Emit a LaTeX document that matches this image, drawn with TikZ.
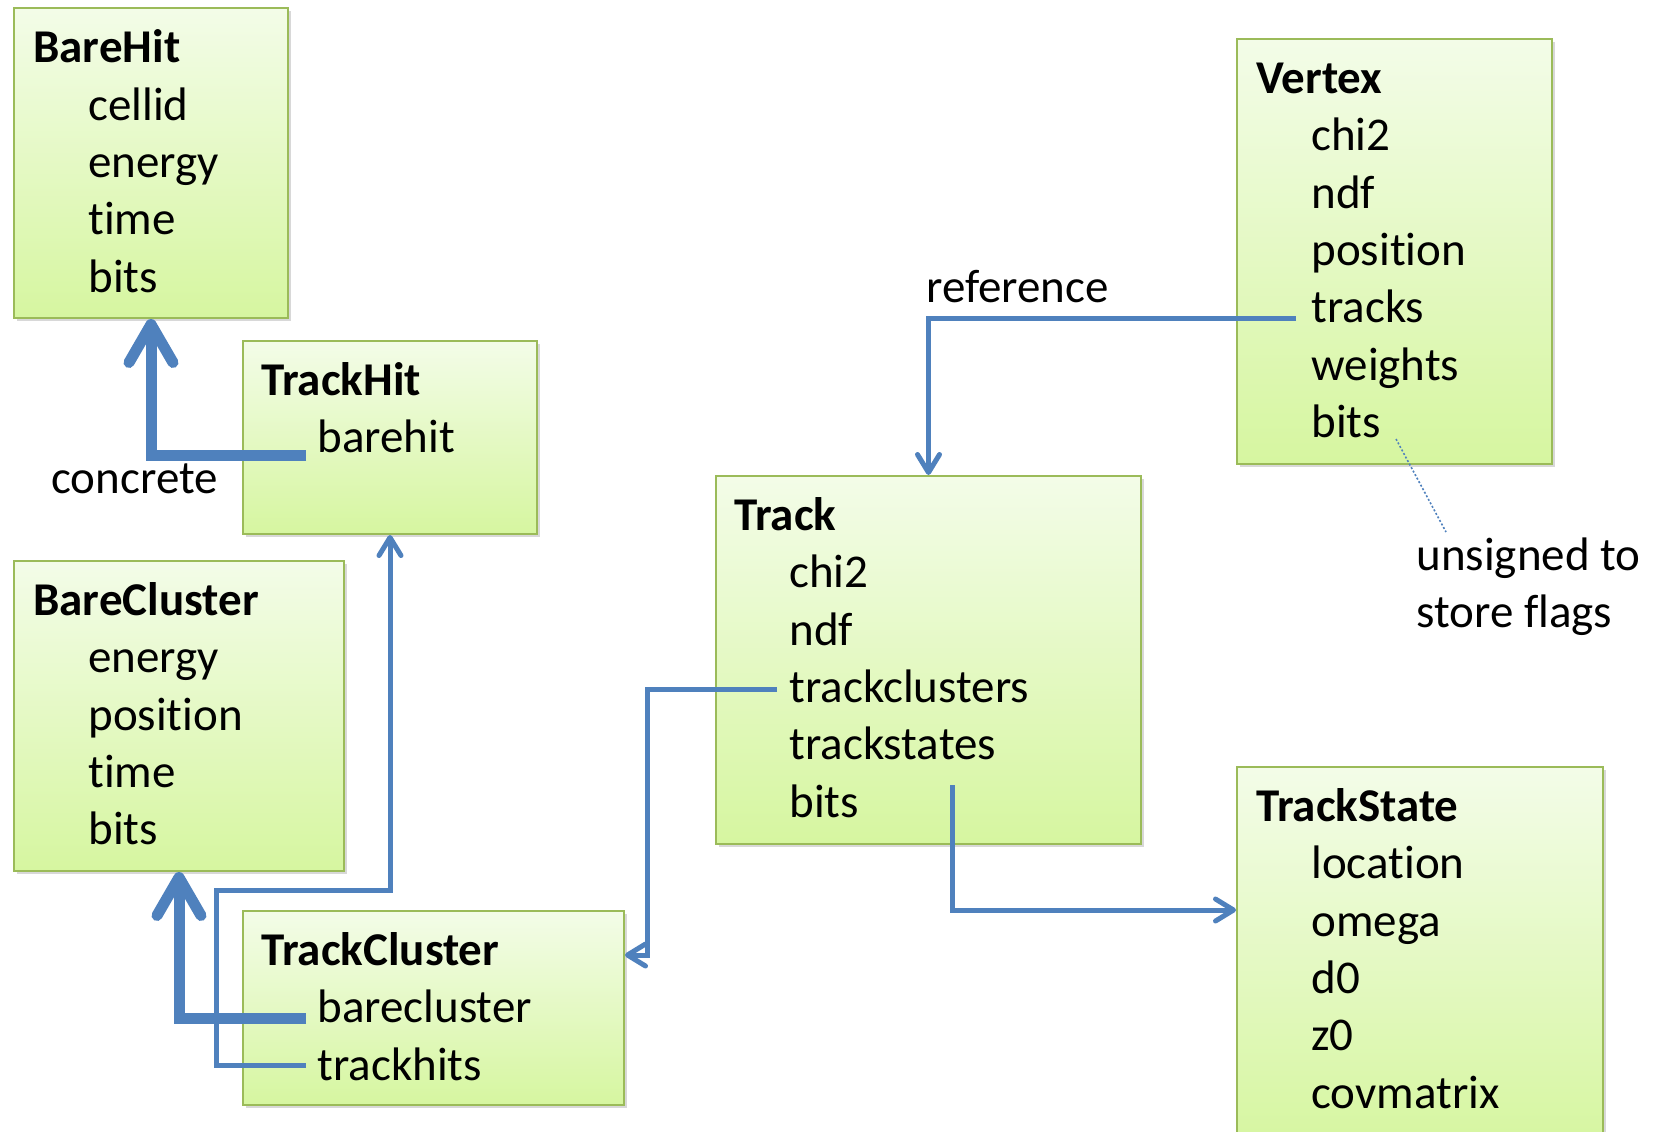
\documentclass[tikz,border=0pt]{standalone}
\usepackage{fontspec}
\setmainfont{Carlito}[Ligatures=NoCommon]
\usetikzlibrary{arrows.meta,shadows,calc}
\definecolor{boxtop}{RGB}{243,252,232}
\definecolor{boxbot}{RGB}{214,246,160}
\definecolor{boxline}{RGB}{155,187,89}
\definecolor{conn}{RGB}{79,129,189}
\begin{document}
\begin{tikzpicture}[x=0.5pt,y=-0.5pt,
  box/.style={draw=boxline,line width=1pt,top color=boxtop,bottom color=boxbot,
    inner sep=0pt,anchor=north west,
    drop shadow={shadow xshift=1.5pt,shadow yshift=-1.5pt,opacity=0.3}},
  ttl/.style={font=\bfseries\fontsize{23.5}{28}\selectfont,anchor=base west,inner sep=0pt},
  attr/.style={font=\fontsize{23.5}{28}\selectfont,anchor=base west,inner sep=0pt},
  heavy/.style={draw=conn,line width=5.5pt,-{Straight Barb[length=19pt,width=22pt,round]}},
  light/.style={draw=conn,line width=2.5pt,-{Straight Barb[length=9pt,width=11pt,round]}},
  note/.style={draw=conn,line width=0.8pt,dash pattern=on 1pt off 1pt}]
\clip (0,0) rectangle (1663,1131);
\fill[white] (0,0) rectangle (1663,1131);

% boxes
\node[box,minimum width=137pt,minimum height=155pt] (BareHit) at (13,7) {};
\node[box,minimum width=147pt,minimum height=96.5pt] (TrackHit) at (242,340) {};
\node[box,minimum width=165pt,minimum height=155pt] (BareCluster) at (13,560) {};
\node[box,minimum width=190.5pt,minimum height=97pt] (TrackCluster) at (242,910) {};
\node[box,minimum width=212.5pt,minimum height=184pt] (Track) at (715,475) {};
\node[box,minimum width=157.5pt,minimum height=212.5pt] (Vertex) at (1236,38) {};
\node[box,minimum width=183pt,minimum height=190pt] (TrackState) at (1236,766) {};

% BareHit
\node[ttl] (bhT) at (33,62) {BareHit};
\node[attr] (bhCellid) at (88,120) {cellid};
\node[attr] (bhEnergy) at (88,177) {energy};
\node[attr] (bhTime) at (88,234) {time};
\node[attr] (bhBits) at (88,292) {bits};

% TrackHit
\node[ttl] (thT) at (261,395) {TrackHit};
\node[attr] (thBarehit) at (317,452) {barehit};

% BareCluster
\node[ttl] (bcT) at (33,615) {BareCluster};
\node[attr] (bcEnergy) at (88,672) {energy};
\node[attr] (bcPosition) at (88,730) {position};
\node[attr] (bcTime) at (88,787) {time};
\node[attr] (bcBits) at (88,844) {bits};

% TrackCluster
\node[ttl] (tcT) at (261,965) {TrackCluster};
\node[attr] (tcBarecluster) at (317,1022) {barecluster};
\node[attr] (tcTrackhits) at (317,1080) {trackhits};

% Track
\node[ttl] (trT) at (734,530) {Track};
\node[attr] (trChi) at (789,587) {chi2};
\node[attr] (trNdf) at (789,645) {ndf};
\node[attr] (trTrackclusters) at (789,702) {trackclusters};
\node[attr] (trTrackstates) at (789,759) {trackstates};
\node[attr] (trBits) at (789,817) {bits};

% Vertex
\node[ttl] (vxT) at (1256,93) {Vertex};
\node[attr] (vxChi) at (1311,150) {chi2};
\node[attr] (vxNdf) at (1311,208) {ndf};
\node[attr] (vxPosition) at (1311,265) {position};
\node[attr] (vxTracks) at (1311,322) {tracks};
\node[attr] (vxWeights) at (1311,380) {weights};
\node[attr] (vxBits) at (1311,437) {bits};

% TrackState
\node[ttl] (tsT) at (1256,821) {TrackState};
\node[attr] (tsLocation) at (1311,878) {location};
\node[attr] (tsOmega) at (1311,936) {omega};
\node[attr] (tsD) at (1311,993) {d0};
\node[attr] (tsZ) at (1311,1050) {z0};
\node[attr] (tsCov) at (1311,1108) {covmatrix};

% free labels
\node[attr] (lblConcrete) at (51,493) {concrete};
\node[attr] (lblReference) at (926,302) {reference};
\node[attr] (noteA) at (1416,570) {unsigned to};
\node[attr] (noteB) at (1416,627) {store flags};

% heavy connectors
\coordinate (s1) at ([xshift=-5.5pt,yshift=-1.5pt]thBarehit.base west);
\draw[heavy] (s1) -| (BareHit.south);
\coordinate (s2) at ([xshift=-5.5pt,yshift=2pt]tcBarecluster.base west);
\draw[heavy] (s2) -| (BareCluster.south);

% light connectors
\coordinate (s3) at ([xshift=-5.5pt,yshift=7.5pt]tcTrackhits.base west);
\coordinate (b3) at (216,890);
\draw[light] (s3) -| (b3) -| (TrackHit.south);

\coordinate (s4) at ([xshift=-7.5pt,yshift=2pt]vxTracks.base west);
\draw[light] (s4) -| (Track.north);

\coordinate (s5) at ([xshift=-6pt,yshift=6.5pt]trTrackclusters.base west);
\coordinate (b5) at (647,955);
\draw[light] (s5) -| (b5) -- (b5 -| TrackCluster.east);

\coordinate (s6) at ([xshift=81.5pt,yshift=16pt]trBits.base west);
\coordinate (b6) at (952,910);
\draw[light] (s6) -- (b6) -- (b6 -| TrackState.west);

% dotted note
\coordinate (s7) at ([xshift=42.5pt,yshift=-1pt]vxBits.base west);
\coordinate (e7) at ([xshift=15pt,yshift=19pt]noteA.base west);
\draw[note] (s7) -- (e7);
\end{tikzpicture}
\end{document}
